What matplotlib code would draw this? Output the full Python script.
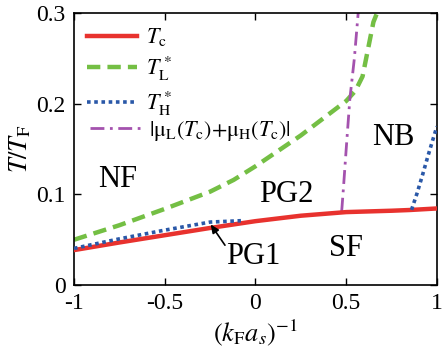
import numpy as np
import matplotlib.pyplot as plt

plt.rcParams['font.family'] = ['Liberation Serif', 'DejaVu Serif']
plt.rcParams['mathtext.fontset'] = 'stix'

# T_c (red solid)
tc_x = [-1.0, -0.75, -0.5, -0.25, 0.0, 0.25, 0.5, 0.75, 0.85, 1.0]
tc_y = [0.0386, 0.047, 0.055, 0.063, 0.0705, 0.0765, 0.0805, 0.082, 0.0828, 0.0845]

# T_L* (green dashed)
tl_x = [-1.0, -0.75, -0.5, -0.25, -0.12, 0.0, 0.25, 0.5, 0.55, 0.59, 0.62, 0.65, 0.67]
tl_y = [0.050, 0.066, 0.084, 0.103, 0.116, 0.131, 0.165, 0.203, 0.214, 0.23, 0.26, 0.29, 0.30]

# T_H* lower branch and upper branch (blue dotted)
th1_x = [-1.0, -0.75, -0.5, -0.25, -0.08]
th1_y = [0.0405, 0.051, 0.0606, 0.0695, 0.071]
th2_x = [0.86, 0.89, 0.92, 0.95, 0.98, 1.0]
th2_y = [0.083, 0.101, 0.121, 0.142, 0.162, 0.175]

# |mu_L(T_c)+mu_H(T_c)| (purple dash-dot)
mu_x = [0.475, 0.484, 0.50, 0.52, 0.545, 0.566]
mu_y = [0.081, 0.105, 0.15, 0.205, 0.25, 0.30]

fig = plt.figure(figsize=(4.47, 3.6), dpi=100)
ax = fig.add_axes([0.1655, 0.208, 0.812, 0.756])

l1, = ax.plot(tc_x, tc_y, color='#e8322e', lw=3.2, label=r'$T_\mathrm{c}$', zorder=3)
l2, = ax.plot(tl_x, tl_y, color='#74bf44', lw=3.2, ls=(0, (3, 1.6)), label=r'$T^*_\mathrm{L}$')
l3, = ax.plot(th1_x, th1_y, color='#2a58a8', lw=2.6, ls=(0, (1, 1)), label=r'$T^*_\mathrm{H}$', zorder=4)
l4, = ax.plot(mu_x, mu_y, color='#a452ae', lw=2.0, ls=(0, (5, 2, 1, 2)),
              label=r'$|\mathrm{μ}_\mathrm{L}(T_\mathrm{c}){+}\mathrm{μ}_\mathrm{H}(T_\mathrm{c})|$')
ax.plot(th2_x, th2_y, color='#2a58a8', lw=2.6, ls=(0, (1, 1)), zorder=4)

ax.text(-0.76, 0.116, 'NF', fontsize=22, ha='center', va='center')
ax.text(0.17, 0.10, 'PG2', fontsize=22, ha='center', va='center')
ax.text(0.50, 0.040, 'SF', fontsize=22, ha='center', va='center')
ax.text(0.76, 0.163, 'NB', fontsize=22, ha='center', va='center')
ax.text(-0.014, 0.031, 'PG1', fontsize=22, ha='center', va='center')
ax.annotate('', xy=(-0.247, 0.067), xytext=(-0.168, 0.044),
            arrowprops=dict(arrowstyle='-|>,head_length=0.5,head_width=0.22',
                            color='black', lw=1.2, shrinkA=0, shrinkB=0))

ax.set_xlim(-1, 1)
ax.set_ylim(0, 0.3)
ax.set_xticks([-1, -0.5, 0, 0.5, 1])
ax.set_xticklabels(['-1', '-0.5', '0', '0.5', '1'])
ax.set_yticks([0, 0.1, 0.2, 0.3])
ax.set_yticklabels(['0', '0.1', '0.2', '0.3'])
ax.tick_params(direction='in', top=True, right=True, length=5, width=1, labelsize=17, pad=6)
for s in ax.spines.values():
    s.set_linewidth(1.2)

ax.set_xlabel(r'$(k_\mathrm{F}a_s)^{-1}$', fontsize=19, labelpad=2)
ax.set_ylabel(r'$T/T_\mathrm{F}$', fontsize=19, labelpad=2)

leg1 = ax.legend(handles=[l1, l2, l3], loc='upper left', frameon=False, fontsize=16,
                 handlelength=2.25, labelspacing=0.3, borderaxespad=0.2, handletextpad=0.4)
ax.add_artist(leg1)
ax.legend(handles=[l4], loc='center left', bbox_to_anchor=(0.02, 0.566), frameon=False,
          fontsize=16, handlelength=2.25, borderaxespad=0, handletextpad=0.4)

plt.savefig('out.png', dpi=100)
